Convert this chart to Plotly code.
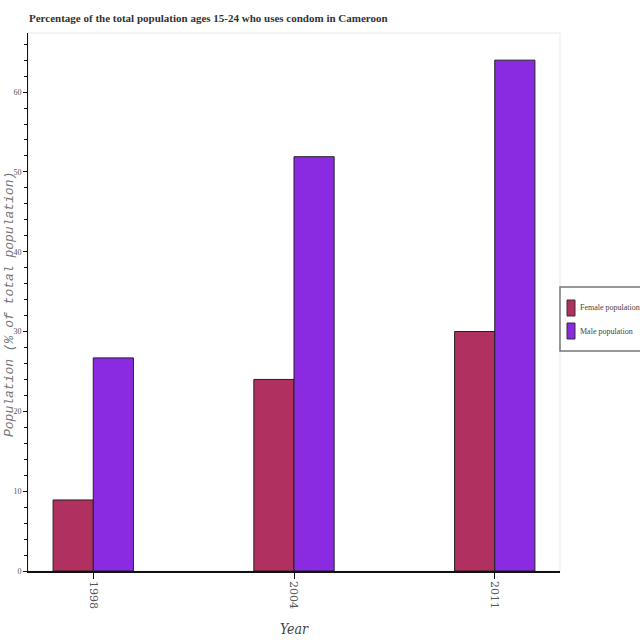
import plotly.graph_objects as go

years = ['1998', '2004', '2011']
female_pct = [8.9, 24.0, 30.0]
male_pct = [26.7, 51.9, 64.0]

series_names = ['Female population', 'Male population']
series_colors = ['#b03060', '#8a2be2']

title_text = 'Percentage of the total population ages 15-24 who uses condom in Cameroon'
cond_serif = 'DejaVu Serif Condensed'

W, H = 640, 640
M = dict(l=28, r=80, t=33, b=69)
plot_w = W - M['l'] - M['r']
plot_h = H - M['t'] - M['b']


def px_x(page_x):
    # pixel column -> paper units
    return (page_x - M['l']) / plot_w


def px_y(page_y):
    # pixel row -> paper units
    return (H - M['b'] - page_y) / plot_h


fig = go.Figure()
for name, vals, col in zip(series_names, [female_pct, male_pct], series_colors):
    fig.add_trace(go.Bar(name=name, x=years, y=vals, showlegend=False,
                         marker=dict(color=col, line=dict(color='#222222', width=1))))

# hand-drawn legend box to the right of the plot
shapes = [
    dict(type='rect', xref='paper', yref='paper', x0=0, x1=1, y0=0, y1=1,
         line=dict(color='#e8e8e8', width=1), layer='below'),
    dict(type='rect', xref='paper', yref='paper', x0=1.0, x1=px_x(660),
         y0=px_y(351), y1=px_y(287), line=dict(color='#777777', width=1.5),
         fillcolor='white'),
]
annotations = []
for i, (name, col) in enumerate(zip(series_names, series_colors)):
    top = 300 + i * 23
    shapes.append(dict(type='rect', xref='paper', yref='paper',
                       x0=px_x(567), x1=px_x(575), y0=px_y(top + 16), y1=px_y(top),
                       fillcolor=col, line=dict(color='#333333', width=1)))
    annotations.append(dict(text=name, xref='paper', yref='paper', x=px_x(578), y=px_y(top + 8),
                            xanchor='left', yanchor='middle', showarrow=False,
                            font=dict(family='Liberation Serif', size=8, color='#444444')))

# y axis title, placed by hand so it clears the tick labels
annotations.append(dict(text='Population (% of total population)', xref='paper', yref='paper',
                        x=px_x(9), y=px_y(305), textangle=-90, showarrow=False,
                        xanchor='center', yanchor='middle',
                        font=dict(family='Liberation Mono', size=13, color='#777777', style='italic')))

fig.update_layout(
    width=W, height=H,
    barmode='group', bargap=0.6, bargroupgap=0,
    paper_bgcolor='white', plot_bgcolor='white',
    margin=dict(**M, autoexpand=False),
    showlegend=False,
    title=dict(text='<b>' + title_text + '</b>', x=29 / W, xanchor='left', y=1 - 18 / H, yanchor='middle',
               font=dict(family='Liberation Serif', size=11, color='#333333')),
    shapes=shapes,
    annotations=annotations,
)

fig.update_xaxes(
    type='category', range=[-0.325, 2.325], automargin=False,
    showline=True, linecolor='#111111', linewidth=1.5,
    ticks='outside', ticklen=6, tickcolor='#111111', tickangle=90,
    tickfont=dict(family='DejaVu Serif', size=11, color='#555555'),
    showgrid=False,
    title=dict(text='Year', standoff=16,
               font=dict(family=cond_serif, size=14, color='#444444', style='italic')),
)
fig.update_yaxes(
    range=[0, 67.4], dtick=10, automargin=False,
    showline=True, linecolor='#111111', linewidth=1,
    ticks='outside', ticklen=4, tickcolor='#111111',
    minor=dict(dtick=2, ticks='outside', ticklen=3, tickcolor='#111111'),
    tickfont=dict(family='Liberation Serif', size=8, color='#555555'),
    showgrid=False, zeroline=False,
)

# drop the browser's default 8px body margin so the figure sits at the page corner
fig.write_html('out.html', config={'displayModeBar': False},
               post_script="document.body.style.margin = '0';")
